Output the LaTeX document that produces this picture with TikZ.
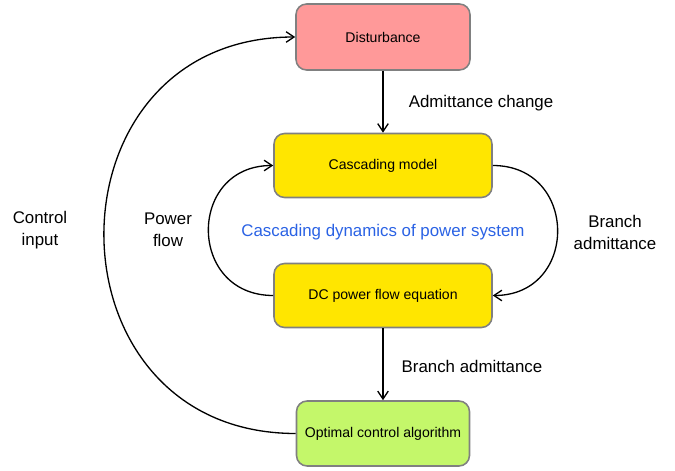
\documentclass[tikz,border=0pt]{standalone}
\usepackage{fontspec}
\setmainfont{Liberation Sans}
\usepackage{tikz}
\usetikzlibrary{arrows.meta, positioning, calc}
\definecolor{boxpink}{RGB}{255,153,153}
\definecolor{boxyellow}{RGB}{255,230,0}
\definecolor{boxgreen}{RGB}{196,247,106}
\definecolor{boxedge}{RGB}{128,128,128}
\definecolor{textblue}{RGB}{42,98,228}
\tikzset{
    block_pink/.style={rectangle, draw=boxedge, line width=0.9pt, rounded corners=6pt, fill=boxpink, minimum width=3.48cm, minimum height=1.32cm, font=\fontsize{8}{10}\selectfont},
    block_yellow/.style={rectangle, draw=boxedge, line width=0.9pt, rounded corners=6pt, fill=boxyellow, minimum width=4.36cm, minimum height=1.28cm, font=\fontsize{8}{10}\selectfont},
    block_green/.style={rectangle, draw=boxedge, line width=0.9pt, rounded corners=6pt, fill=boxgreen, minimum width=3.46cm, minimum height=1.3cm, font=\fontsize{8}{10}\selectfont},
    lbl/.style={align=center, font=\fontsize{9.6}{12.5}\selectfont},
    arrow/.style={-{Straight Barb[length=4.5pt,width=6pt]}, line width=0.75pt}
}
\begin{document}
\begin{tikzpicture}
            \useasboundingbox (0,0) rectangle (13.5,9.4);

            % Blocks
            \node[block_pink] (dist) at (7.66,8.66) {Disturbance};
            \node[block_yellow] (casc) at (7.66,6.09) {Cascading model};
            \node[block_yellow] (dcpf) at (7.66,3.49) {DC power flow equation};
            \node[block_green] (optc) at (7.66,0.73) {Optimal control algorithm};

            % Arrows
            \draw[arrow] (dist) -- (casc);
            \draw[arrow] (dcpf) -- (optc);
            \draw[arrow] (casc.east) to[out=0, in=0, looseness=1.7] (dcpf.east);
            \draw[arrow] (dcpf.west) to[out=180, in=180, looseness=1.7] (casc.west);
            \draw[arrow] (optc.west) to[out=180, in=180, looseness=1.65] (dist.west);

            % Labels
            \node[lbl] (lchange) at (9.62,7.34) {Admittance change};
            \node[lbl] (lbranchr) at (12.3,4.76) {Branch\\admittance};
            \node[lbl] (lpower) at (3.36,4.8) {Power\\flow};
            \node[lbl] (lcontrol) at (0.8,4.8) {Control\\input};
            \node[lbl] (lbranchb) at (9.44,2.08) {Branch admittance};
            \node[lbl, text=textblue] (ltitle) at (7.66,4.76) {Cascading dynamics of power system};
		\end{tikzpicture}
\end{document}
